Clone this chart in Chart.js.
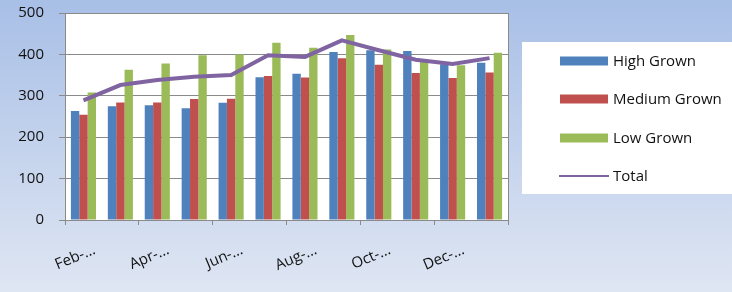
<!DOCTYPE html>
<html>
<head>
<meta charset="utf-8">
<script src="https://cdn.jsdelivr.net/npm/chart.js@4.4.1/dist/chart.umd.min.js"></script>
<style>
  html, body { margin: 0; padding: 0; }
  body { width: 732px; height: 292px; overflow: hidden; }
  #wrap { width: 732px; height: 292px; position: relative; }
</style>
</head>
<body>
<div id="wrap"><canvas id="c" width="732" height="292"></canvas></div>
<script>
const categories = ['Feb-…','Mar-…','Apr-…','May-…','Jun-…','Jul-…','Aug-…','Sep-…','Oct-…','Nov-…','Dec-…','Jan-…'];
const highGrown   = [263, 275, 277, 270, 283, 345, 353, 406, 410, 408, 376, 380];
const mediumGrown = [254, 284, 284, 292, 293, 348, 344, 391, 375, 355, 343, 356];
const lowGrown    = [308, 363, 378, 398, 400, 428, 416, 447, 412, 382, 374, 404];
const total       = [289, 326, 338, 346, 350, 398, 394, 434, 410, 387, 377, 391];
const seriesNames = ['High Grown', 'Medium Grown', 'Low Grown', 'Total'];
const yTicks = [0, 100, 200, 300, 400, 500];

const FONT = '"Open Sans", Lato, sans-serif';

const decor = {
  id: 'decor',
  beforeDraw(chart) {
    const ctx = chart.ctx, W = chart.width, H = chart.height;
    ctx.save();
    const g = ctx.createLinearGradient(0, 0, 0, H);
    g.addColorStop(0, '#a8bfe6');
    g.addColorStop(1, '#dfe6f3');
    ctx.fillStyle = g;
    ctx.fillRect(0, 0, W, H);
    const a = chart.chartArea;
    ctx.fillStyle = '#ffffff';
    ctx.fillRect(a.left, a.top, a.right - a.left, a.bottom - a.top);
    ctx.restore();
  },
  beforeDatasetsDraw(chart) {
    const ctx = chart.ctx, a = chart.chartArea;
    ctx.save();
    ctx.strokeStyle = '#8a8a8a';
    ctx.lineWidth = 1;
    ctx.beginPath();
    ctx.moveTo(Math.round(a.right) + 0.5, a.top);
    ctx.lineTo(Math.round(a.right) + 0.5, a.bottom);
    ctx.stroke();
    ctx.restore();
  },
  afterDraw(chart) {
    const ctx = chart.ctx;
    ctx.save();
    ctx.fillStyle = '#ffffff';
    ctx.fillRect(522, 42, 210, 152);
    const rows = [61, 99, 138, 176];
    chart.data.datasets.forEach((ds, i) => {
      const y = rows[i];
      if (ds.type === 'line') {
        ctx.strokeStyle = ds.borderColor;
        ctx.lineWidth = 2;
        ctx.beginPath();
        ctx.moveTo(559, y);
        ctx.lineTo(609, y);
        ctx.stroke();
      } else {
        ctx.fillStyle = ds.backgroundColor;
        ctx.fillRect(560, y - 4.5, 48, 9);
      }
      ctx.fillStyle = '#111111';
      ctx.font = '15px ' + FONT;
      ctx.textBaseline = 'middle';
      ctx.textAlign = 'left';
      ctx.fillText(ds.label, 613, y + 0.5);
    });
    ctx.restore();
  }
};

function noPad(s) { s.paddingTop = 0; s.paddingBottom = 0; s.paddingLeft = 0; s.paddingRight = 0; }

new Chart(document.getElementById('c'), {
  data: {
    labels: categories,
    datasets: [
      { type: 'bar', label: seriesNames[0], data: highGrown, backgroundColor: '#4f81bd', order: 1 },
      { type: 'bar', label: seriesNames[1], data: mediumGrown, backgroundColor: '#c0504d', order: 1 },
      { type: 'bar', label: seriesNames[2], data: lowGrown, backgroundColor: '#9bbb59', order: 1 },
      { type: 'line', label: seriesNames[3], data: total, borderColor: '#8064a2', backgroundColor: '#8064a2',
        borderWidth: 4, pointRadius: 0, tension: 0, order: 0 }
    ]
  },
  options: {
    responsive: false,
    animation: false,
    devicePixelRatio: 1,
    layout: { padding: { left: 0, right: 224, top: 13, bottom: 0 } },
    datasets: { bar: { categoryPercentage: 0.68, barPercentage: 1.0 } },
    plugins: { legend: { display: false }, tooltip: { enabled: false } },
    scales: {
      x: {
        offset: true,
        afterFit(s) { s.height = 72; noPad(s); },
        grid: {
          offset: true,
          drawOnChartArea: false,
          drawTicks: true,
          tickLength: 5,
          color: (c) => (c.index === undefined || c.index % 2 === 0) ? '#8a8a8a' : 'rgba(0,0,0,0)'
        },
        border: { display: true, color: '#8a8a8a', width: 1 },
        ticks: {
          autoSkip: false,
          minRotation: 23,
          maxRotation: 23,
          labelOffset: 11,
          padding: 16,
          color: '#111111',
          font: { family: FONT, size: 15 },
          callback: function(v, i) { return i % 2 === 0 ? this.getLabelForValue(v) : ''; }
        }
      },
      y: {
        min: yTicks[0],
        max: yTicks[yTicks.length - 1],
        afterFit(s) { s.width = 65; noPad(s); },
        afterBuildTicks(s) { s.ticks = yTicks.map(v => ({ value: v })); },
        grid: { color: '#8a8a8a', lineWidth: 1, tickLength: 6 },
        border: { display: true, color: '#8a8a8a', width: 1 },
        ticks: { padding: 15, color: '#111111', font: { family: FONT, size: 15 } }
      }
    }
  },
  plugins: [decor]
});
</script>
</body>
</html>
